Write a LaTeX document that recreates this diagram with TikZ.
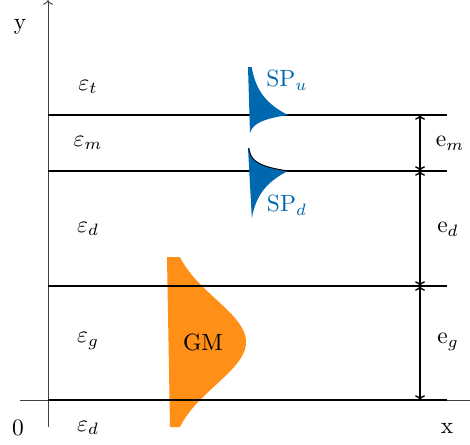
\documentclass[tikz,border=0pt]{standalone}
\usetikzlibrary{arrows.meta}
\definecolor{spblue}{RGB}{0,104,175}
\definecolor{gmorange}{RGB}{255,143,22}
\begin{document}
\begin{tikzpicture}[x=0.4255pt,y=-0.4255pt,
  layer/.style={black,semithick},
  axis/.style={black!75,thin,-{To[length=2pt]}},
  dim/.style={black,semithick,{To[length=2pt]}-{To[length=2pt]}},
  lbl/.style={inner sep=0pt},
  splbl/.style={inner sep=0pt,text=spblue}]
\useasboundingbox (0,0) rectangle (470,444);
% coordinates
\coordinate (ya) at (48,427);
\coordinate (yb) at (48,0);
\coordinate (xa) at (20,400);
\coordinate (xb) at (478,400);
\foreach \n/\yy in {1/115,2/171,3/286,4/400}{
  \coordinate (L\n a) at (48,\yy);
  \coordinate (L\n b) at (447,\yy);
  \coordinate (D\n) at (420,\yy);
}
% GM
\fill[gmorange] (167,257) -- plot[domain=257:427,samples=80] ({169+77*exp(-0.5*((\x-342)/43)^2)},\x) -- (170,427) -- cycle;
% axes
\draw[axis] (ya) -- (yb);
\draw[axis] (xa) -- (xb);
% layers
\draw[layer] (L1a) -- (L1b);
\draw[layer] (L2a) -- (L2b);
\draw[layer] (L3a) -- (L3b);
\draw[layer] (L4a) -- (L4b);
% SP shapes
\fill[spblue] (248,67) -- plot[domain=67:115,samples=50] ({248+40*exp(-(115-\x)/20)},\x)
  -- plot[domain=115:133,samples=30] ({248+40*exp(-(\x-115)/6)},\x) -- cycle;
\fill[spblue] (248,148) -- plot[domain=148:171,samples=30] ({248+40*exp(-(171-\x)/6)},\x)
  -- plot[domain=171:218,samples=50] ({248+40*exp(-(\x-171)/20)},\x) -- cycle;
\draw[black,thin] plot[domain=148:171,samples=30] ({248+40*exp(-(171-\x)/6)},\x);
% dimension arrows
\draw[dim] (D1) -- (D2);
\draw[dim] (D2) -- (D3);
\draw[dim] (D3) -- (D4);
% labels
\node[lbl] (ylab) at (20,27) {y};
\node[lbl] (zero) at (18,428) {0};
\node[lbl] (xlab) at (447,428) {x};
\node[lbl] (et) at (88,87) {$\varepsilon_t$};
\node[lbl] (em) at (88,143) {$\varepsilon_m$};
\node[lbl] (ed) at (88,229) {$\varepsilon_d$};
\node[lbl] (eg) at (88,341) {$\varepsilon_g$};
\node[lbl] (ed2) at (88,428) {$\varepsilon_d$};
\node[lbl] (dm) at (450,143) {e$_m$};
\node[lbl] (dd) at (448,229) {e$_d$};
\node[lbl] (dg) at (448,342) {e$_g$};
\node[splbl] (spu) at (287,80) {SP$_u$};
\node[splbl] (spd) at (287,205) {SP$_d$};
\node[lbl] (gm) at (203,342) {GM};
\end{tikzpicture}
\end{document}
